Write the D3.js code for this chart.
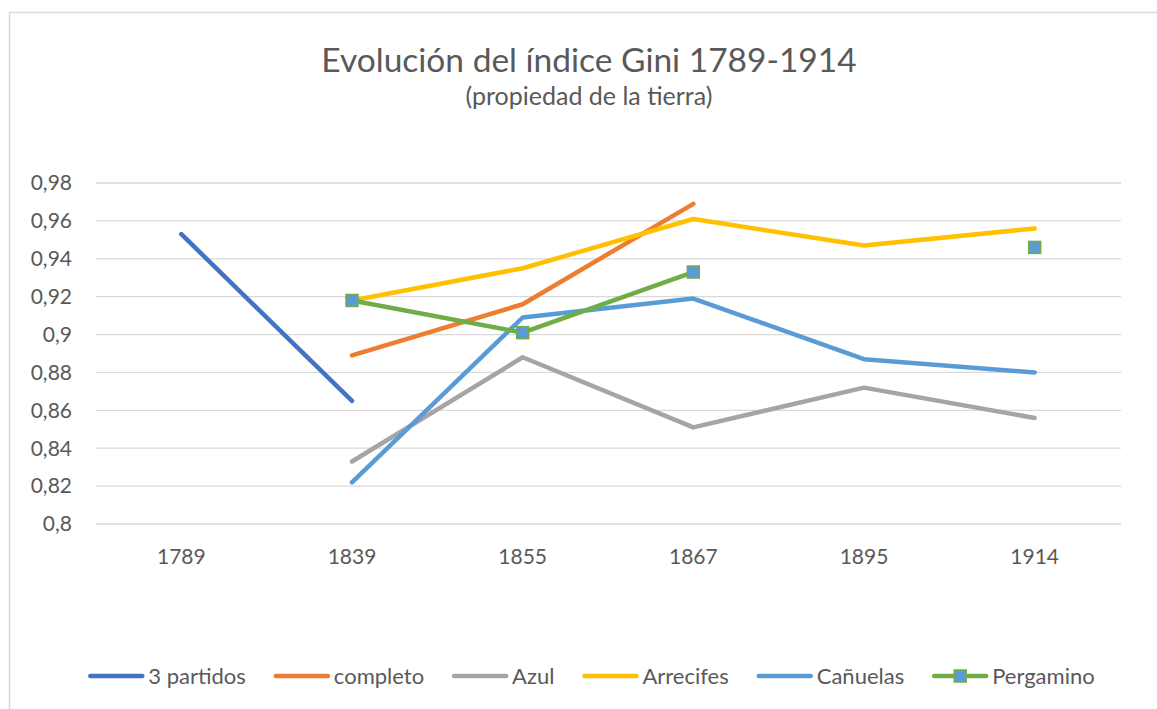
<!DOCTYPE html>
<head>
  <meta charset="utf-8">
  <script src="https://d3js.org/d3.v7.min.js"></script>
  <style>
    body { margin:0; background:white; }
  </style>
</head>
<body>
<script>
  // data
  const years = ['1789', '1839', '1855', '1867', '1895', '1914'];
  const yTicks = [0.8, 0.82, 0.84, 0.86, 0.88, 0.9, 0.92, 0.94, 0.96, 0.98];
  const tresPartidos = [0.953, 0.865, null, null, null, null];
  const completo = [null, 0.889, 0.916, 0.969, null, null];
  const azul = [null, 0.833, 0.888, 0.851, 0.872, 0.856];
  const arrecifes = [null, 0.918, 0.935, 0.961, 0.947, 0.956];
  const canuelas = [null, 0.822, 0.909, 0.919, 0.887, 0.880];
  const pergamino = [null, 0.918, 0.901, 0.933, null, 0.946];

  const series = [
    {name: '3 partidos', values: tresPartidos, color: '#4472C4'},
    {name: 'completo', values: completo, color: '#ED7D31'},
    {name: 'Azul', values: azul, color: '#A5A5A5'},
    {name: 'Arrecifes', values: arrecifes, color: '#FFC000'},
    {name: 'Cañuelas', values: canuelas, color: '#5B9BD5'},
    {name: 'Pergamino', values: pergamino, color: '#70AD47', marker: '#5B9BD5'}
  ];

  const W = 1157, H = 709;
  const font = 'Lato, "Liberation Sans", sans-serif';
  const textColor = '#595959';

  const svg = d3.select('body').append('svg')
    .attr('width', W).attr('height', H);

  // chart frame
  svg.append('rect')
    .attr('x', 9.5).attr('y', 12.5)
    .attr('width', W + 10).attr('height', H + 10)
    .style('fill', 'white').style('stroke', '#d9d9d9').style('stroke-width', 1.5);

  svg.append('text')
    .text('Evolución del índice Gini 1789-1914')
    .attr('x', 589).attr('y', 72)
    .attr('text-anchor', 'middle')
    .style('font-family', font).style('font-size', '33.5px').style('fill', textColor);

  svg.append('text')
    .text('(propiedad de la tierra)')
    .attr('x', 589).attr('y', 105)
    .attr('text-anchor', 'middle')
    .style('font-family', font).style('font-size', '25px').style('fill', textColor);

  const x = d3.scalePoint().domain(years).range([96, 1120]).padding(0.5);
  const y = d3.scaleLinear().domain([0.8, 0.98]).range([524, 183]);

  // grid
  svg.append('g').selectAll('line')
    .data(yTicks).enter().append('line')
    .attr('x1', 96).attr('x2', 1121)
    .attr('y1', d => y(d)).attr('y2', d => y(d))
    .style('stroke', '#d9d9d9').style('stroke-width', 1.3);

  const fmt = d => String(+d.toFixed(2)).replace('.', ',');

  svg.append('g').selectAll('text')
    .data(yTicks).enter().append('text')
    .text(fmt)
    .attr('x', 72).attr('y', d => y(d)).attr('dy', '0.35em')
    .attr('text-anchor', 'end')
    .style('font-family', font).style('font-size', '21px').style('fill', textColor);

  svg.append('g').selectAll('text')
    .data(years).enter().append('text')
    .text(d => d)
    .attr('x', d => x(d)).attr('y', 557).attr('dy', '0.35em')
    .attr('text-anchor', 'middle')
    .style('font-family', font).style('font-size', '21px').style('fill', textColor);

  const line = d3.line()
    .defined(d => d != null)
    .x((d, i) => x(years[i]))
    .y(d => y(d));

  const lines = svg.append('g');
  series.forEach(s => {
    lines.append('path')
      .attr('d', line(s.values))
      .style('fill', 'none')
      .style('stroke', s.color)
      .style('stroke-width', 4.5)
      .style('stroke-linecap', 'round')
      .style('stroke-linejoin', 'round');
    if (s.marker) {
      lines.selectAll(null)
        .data(s.values.map((v, i) => ({v, i})).filter(d => d.v != null))
        .enter().append('rect')
        .attr('x', d => x(years[d.i]) - 6).attr('y', d => y(d.v) - 6)
        .attr('width', 12).attr('height', 12)
        .style('fill', s.marker).style('stroke', s.color).style('stroke-width', 1.5);
    }
  });

  // legend
  const legend = svg.append('g');
  const gap = 28;
  let lx = 0;
  series.forEach(s => {
    const g = legend.append('g');
    g.append('line')
      .attr('x1', 2).attr('x2', 54).attr('y1', 0).attr('y2', 0)
      .style('stroke', s.color).style('stroke-width', 4.5).style('stroke-linecap', 'round');
    if (s.marker) {
      g.append('rect')
        .attr('x', 22).attr('y', -6).attr('width', 12).attr('height', 12)
        .style('fill', s.marker).style('stroke', s.color).style('stroke-width', 1.5);
    }
    const t = g.append('text')
      .text(s.name)
      .attr('x', 60).attr('dy', '0.35em')
      .style('font-family', font).style('font-size', '22px').style('fill', textColor);
    const w = 60 + t.node().getComputedTextLength();
    g.attr('transform', `translate(${lx}, 0)`);
    lx += w + gap;
  });
  const total = lx - gap;
  legend.attr('transform', `translate(${591.5 - total / 2}, 676)`);
</script>
</body>
